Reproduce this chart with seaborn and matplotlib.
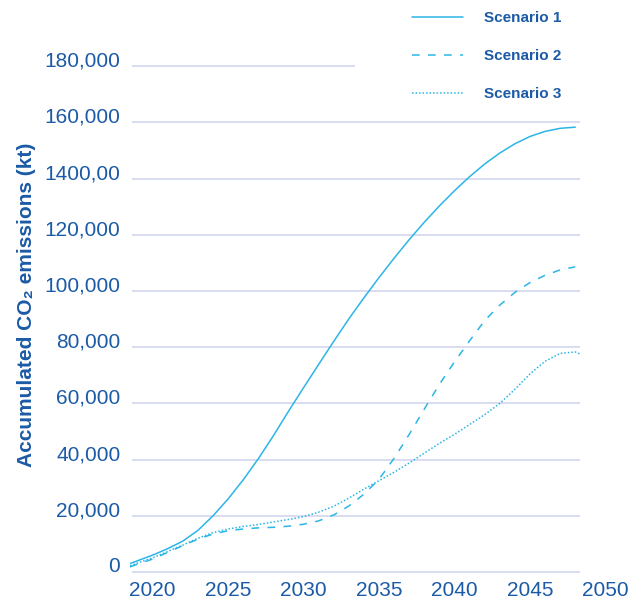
import numpy as np
import pandas as pd
import matplotlib
matplotlib.use("Agg")
import matplotlib.pyplot as plt
import matplotlib.transforms as mtransforms
import seaborn as sns

# Datos
years = [2018.5, 2019, 2020, 2021, 2022, 2023, 2024, 2025, 2026, 2027, 2028,
         2029, 2030, 2031, 2032, 2033, 2034, 2035, 2036, 2037, 2038, 2039,
         2040, 2041, 2042, 2043, 2044, 2045, 2046, 2047, 2048]
scenario_1 = [3000, 4000, 6000, 8300, 11000, 14800, 20000, 26000, 32800, 40300, 48500,
              57200, 65600, 73900, 82100, 90100, 97600, 104800, 111700, 118300, 124500, 130300,
              135700, 140700, 145200, 149100, 152400, 155000, 156800, 157900, 158300]
scenario_2 = [1800, 2800, 4600, 7000, 9400, 11700, 13500, 14700, 15300, 15700, 15900,
              16300, 17000, 18200, 20300, 23500, 27700, 33000, 40500, 49000, 58000, 66800,
              74800, 82300, 89500, 95000, 99500, 103000, 105600, 107500, 108600]
scenario_3 = [2200, 3200, 5000, 7300, 9600, 12000, 14000, 15300, 16200, 16900, 17800,
              18700, 19700, 21300, 23400, 26300, 29500, 32500, 35500, 38800, 42300, 45800,
              49000, 52500, 56000, 60000, 65000, 70500, 75000, 77800, 78300]
# el escenario 3 baja un poco al final
years_3_tail = [2048.3]
scenario_3_tail = [77600]

ytick_values = [0, 20000, 40000, 60000, 80000, 100000, 120000, 140000, 160000, 180000]
ytick_labels = ["0", "20,000", "40,000", "60,000", "80,000", "100,000",
                "120,000", "1400,00", "160,000", "180,000"]
xtick_values = [2020, 2025, 2030, 2035, 2040, 2045, 2050]

df = pd.concat([
    pd.DataFrame({"year": years, "value": scenario_1, "scenario": "Scenario 1"}),
    pd.DataFrame({"year": years, "value": scenario_2, "scenario": "Scenario 2"}),
    pd.DataFrame({"year": years + years_3_tail, "value": scenario_3 + scenario_3_tail,
                  "scenario": "Scenario 3"}),
], ignore_index=True)

sns.set_style("white")
plt.rcParams["font.family"] = ["Liberation Sans", "DejaVu Sans"]

line_color = "#2bb5e6"
text_color = "#1b5aa6"
grid_color = "#d6daee"

fig = plt.figure(figsize=(6.42, 6.0), dpi=100)
ax = fig.add_axes([130 / 642, 20 / 600, 485 / 642, 575 / 600])

# lineas de cuadricula manuales (la de 180,000 es mas corta)
for v in ytick_values:
    x_end = 2033.4 if v == 180000 else 2048.3
    ax.hlines(v, 2018.65, x_end, color=grid_color, lw=1.3, zorder=0)

sns.lineplot(data=df, x="year", y="value", style="scenario",
             dashes={"Scenario 1": "", "Scenario 2": (5, 5.5), "Scenario 3": (1, 1.3)},
             color=line_color, lw=1.1, ax=ax)

ax.set_xlim(2018.5, 2050.63)
ax.set_ylim(-2850, 201780)
ax.set_xticks(xtick_values)
ax.set_xticklabels([str(x) for x in xtick_values])
ax.set_yticks(ytick_values)
ax.set_yticklabels(ytick_labels)
ax.tick_params(axis="both", length=0, labelsize=15, colors=text_color)
ax.tick_params(axis="y", pad=7)
ax.tick_params(axis="x", pad=0)
offset = mtransforms.ScaledTranslation(0, 7 / 100, fig.dpi_scale_trans)
for lab in ax.get_yticklabels():
    lab.set_transform(lab.get_transform() + offset)
x_offset = mtransforms.ScaledTranslation(0, -1 / 100, fig.dpi_scale_trans)
for lab in ax.get_xticklabels():
    lab.set_transform(lab.get_transform() + x_offset)
for s in ax.spines.values():
    s.set_visible(False)

ax.set_xlabel("")
ax.set_ylabel("")
fig.text(27 / 642, 1 - 305 / 600, "Accumulated CO₂ emissions (kt)", rotation=90,
         ha="center", va="center", fontsize=15, fontweight="bold", color=text_color)

handles, labels = ax.get_legend_handles_labels()
leg = ax.legend(handles, labels, loc="upper left", frameon=False,
                bbox_to_anchor=(412 / 642, 1 - 11 / 600), bbox_transform=fig.transFigure,
                borderpad=0, borderaxespad=0, handlelength=3.35, handletextpad=1.35,
                labelspacing=1.58, prop={"size": 11, "weight": "bold"})
for t in leg.get_texts():
    t.set_color(text_color)

fig.savefig("out.png", dpi=100)
